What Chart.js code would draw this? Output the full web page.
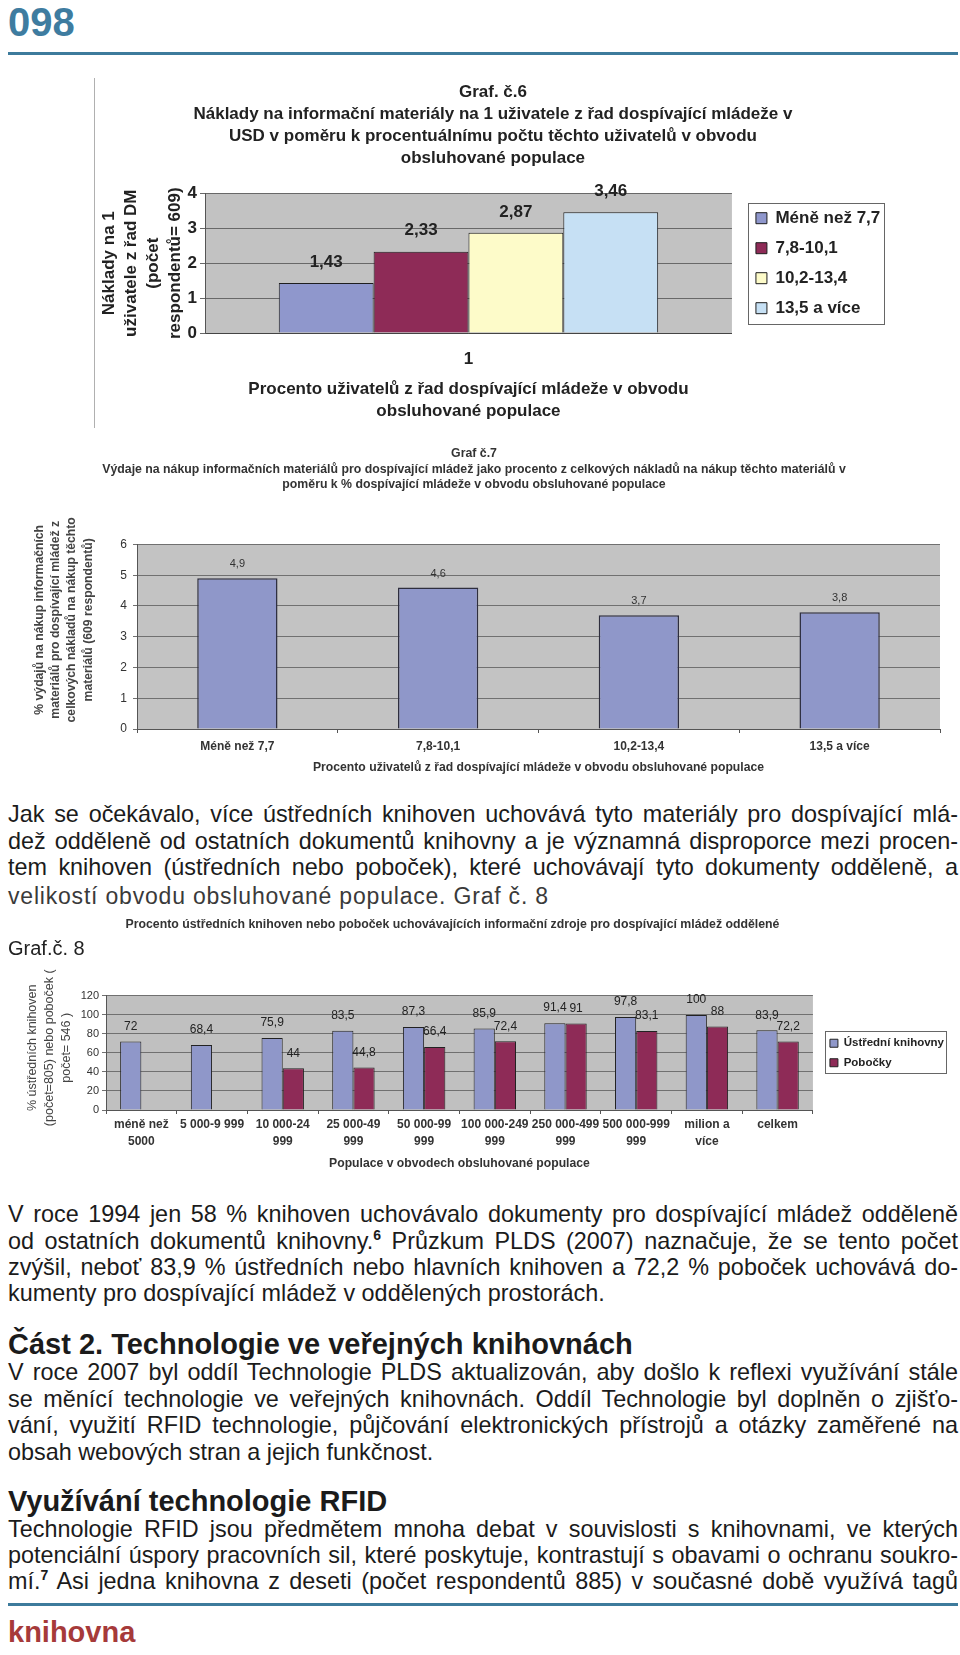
<!DOCTYPE html>
<html><head><meta charset="utf-8">
<script src="https://cdn.jsdelivr.net/npm/chart.js@4.4.1/dist/chart.umd.min.js"></script>
<style>
html,body{margin:0;padding:0;background:#fff;}
body{position:relative;width:960px;height:1655px;overflow:hidden;font-family:"Liberation Sans",Arial,sans-serif;}
.abs{position:absolute;}
canvas{position:absolute;}
.t{position:absolute;left:8px;width:950px;white-space:nowrap;font-family:"Liberation Sans",Arial,sans-serif;font-size:23.4px;line-height:26px;height:26px;color:#1b1b1b;}
.h{position:absolute;left:8px;white-space:nowrap;font-family:"Liberation Sans",Arial,sans-serif;font-weight:bold;font-size:29px;line-height:34px;color:#1b1b1b;}
sup{font-size:14px;font-weight:bold;line-height:0;vertical-align:9px;}
</style></head>
<body>
<div class="abs" style="left:8px;top:0;font-weight:bold;font-size:40px;line-height:44px;color:#3e7ca0;">098</div>
<div class="abs" style="left:8px;top:52px;width:950px;height:3px;background:#3d7b9c"></div>
<div class="abs" style="left:94px;top:78px;width:1px;height:350px;background:#b0b0b0"></div>

<canvas id="c6" width="794" height="355" style="left:96px;top:75px"></canvas>
<canvas id="c7" width="950" height="340" style="left:0px;top:440px"></canvas>

<div class="t j" style="top:801px"><span>Jak se očekávalo, více ústředních knihoven uchovává tyto materiály pro dospívající mlá-</span></div>
<div class="t j" style="top:828px"><span>dež odděleně od ostatních dokumentů knihovny a je významná disproporce mezi procen-</span></div>
<div class="t j" style="top:854px"><span>tem knihoven (ústředních nebo poboček), které uchovávají tyto dokumenty odděleně, a</span></div>
<div class="t" style="top:883px;font-size:23px;letter-spacing:0.8px;color:#3a3a3a;"><span>velikostí obvodu obsluhované populace. Graf č. 8</span></div>

<canvas id="c8" width="955" height="275" style="left:0px;top:905px"></canvas>
<div class="abs" style="left:8px;top:935px;font-size:20px;line-height:26px;color:#222;">Graf.č. 8</div>

<div class="t j" style="top:1201px"><span>V roce 1994 jen 58 % knihoven uchovávalo dokumenty pro dospívající mládež odděleně</span></div>
<div class="t j" style="top:1228px"><span>od ostatních dokumentů knihovny.<sup>6</sup> Průzkum PLDS (2007) naznačuje, že se tento počet</span></div>
<div class="t j" style="top:1254px"><span>zvýšil, neboť 83,9 % ústředních nebo hlavních knihoven a 72,2 % poboček uchovává do-</span></div>
<div class="t" style="top:1280px"><span>kumenty pro dospívající mládež v oddělených prostorách.</span></div>

<div class="h" style="top:1327px">Část 2. Technologie ve veřejných knihovnách</div>
<div class="t j" style="top:1359px"><span>V roce 2007 byl oddíl Technologie PLDS aktualizován, aby došlo k reflexi využívání stále</span></div>
<div class="t j" style="top:1386px"><span>se měnící technologie ve veřejných knihovnách. Oddíl Technologie byl doplněn o zjišťo-</span></div>
<div class="t j" style="top:1412px"><span>vání, využití RFID technologie, půjčování elektronických přístrojů a otázky zaměřené na</span></div>
<div class="t" style="top:1439px"><span>obsah webových stran a jejich funkčnost.</span></div>

<div class="h" style="top:1484px">Využívání technologie RFID</div>
<div class="t j" style="top:1516px"><span>Technologie RFID jsou předmětem mnoha debat v souvislosti s knihovnami, ve kterých</span></div>
<div class="t j" style="top:1542px"><span>potenciální úspory pracovních sil, které poskytuje, kontrastují s obavami o ochranu soukro-</span></div>
<div class="t j" style="top:1568px"><span>mí.<sup>7</sup> Asi jedna knihovna z deseti (počet respondentů 885) v současné době využívá tagů</span></div>

<div class="abs" style="left:8px;top:1603px;width:950px;height:3px;background:#3d7b9c"></div>
<div class="abs" style="left:8px;top:1615px;font-weight:bold;font-size:29px;line-height:34px;color:#a63a3a;">knihovna</div>

<script>
// ---------- data ----------
const c6Categories = ['1'];
const c6Series = ['Méně než 7,7', '7,8-10,1', '10,2-13,4', '13,5 a více'];
const c6Values = [1.43, 2.33, 2.87, 3.46];
const c6Colors = ['#8f97cc', '#8e2b57', '#fdfbc9', '#c6e0f4'];

const c7Categories = ['Méně než 7,7', '7,8-10,1', '10,2-13,4', '13,5 a více'];
const c7Values = [4.9, 4.6, 3.7, 3.8];

const c8Categories = [['méně než','5000'], ['5 000-9 999'], ['10 000-24','999'], ['25 000-49','999'], ['50 000-99','999'], ['100 000-249','999'], ['250 000-499','999'], ['500 000-999','999'], ['milion a','více'], ['celkem']];
const c8SeriesNames = ['Ústřední knihovny', 'Pobočky'];
const c8Central = [72, 68.4, 75.9, 83.5, 87.3, 85.9, 91.4, 97.8, 100, 83.9];
const c8Branches = [null, null, 44, 44.8, 66.4, 72.4, 91, 83.1, 88, 72.2];

// ---------- justify text lines ----------
document.querySelectorAll('.j').forEach(el => {
  const sp = el.querySelector('span');
  const w = sp.getBoundingClientRect().width;
  const n = (sp.textContent.match(/ /g) || []).length;
  if (n > 0) el.style.wordSpacing = ((950 - w) / n) + 'px';
});

// ---------- plugins ----------
const plotBg = {
  id: 'plotBg',
  beforeDraw(chart, args, o) {
    const {ctx, chartArea: a} = chart;
    ctx.save(); ctx.fillStyle = o.color; ctx.fillRect(a.left, a.top, a.width, a.height); ctx.restore();
  }
};
const valueLabels = {
  id: 'valueLabels',
  afterDatasetsDraw(chart, args, o) {
    const {ctx} = chart;
    ctx.save();
    ctx.font = o.font; ctx.fillStyle = o.color; ctx.textAlign = 'center'; ctx.textBaseline = 'middle';
    chart.data.datasets.forEach((ds, i) => {
      const meta = chart.getDatasetMeta(i);
      meta.data.forEach((el, j) => {
        const v = ds.data[j];
        if (v === null || v === undefined) return;
        ctx.fillText(String(v).replace('.', ','), el.x, el.y - o.offset);
      });
    });
    ctx.restore();
  }
};
const legendBox = {
  id: 'legendBox',
  afterDraw(chart, args, o) {
    const lg = chart.legend;
    if (!lg || !lg.legendHitBoxes || !lg.legendHitBoxes.length) return;
    let l = Infinity, t = Infinity, r = -Infinity, b = -Infinity;
    lg.legendHitBoxes.forEach(h => { l = Math.min(l, h.left); t = Math.min(t, h.top); r = Math.max(r, h.left + h.width); b = Math.max(b, h.top + h.height); });
    const ctx = chart.ctx;
    ctx.save(); ctx.strokeStyle = o.color; ctx.lineWidth = 1;
    ctx.strokeRect(Math.round(l - o.pad[0]) + 0.5, Math.round(t - o.pad[1]) + 0.5, Math.round(r - l + o.pad[0] + o.pad[2]), Math.round(b - t + o.pad[1] + o.pad[3]));
    ctx.restore();
  }
};
// shifts the legend / title boxes sideways after the library's layout
const shiftBoxes = {
  id: 'shiftBoxes',
  afterLayout(chart, args, o) {
    if (o.legend && chart.legend) { chart.legend.left += o.legend; chart.legend.right += o.legend; }
    if (o.title && chart.titleBlock) { chart.titleBlock.left += o.title; chart.titleBlock.right += o.title; }
  }
};

Chart.defaults.font.family = '"Liberation Sans", Arial, sans-serif';
Chart.defaults.animation = false;

const NB = '\u00A0';

// ---------- Graf 6 ----------
new Chart(document.getElementById('c6'), {
  type: 'bar',
  data: {
    labels: c6Categories,
    datasets: c6Series.map((name, i) => ({
      label: name, data: [c6Values[i]], backgroundColor: c6Colors[i],
      borderColor: '#1e1e1e', borderWidth: 1, categoryPercentage: 0.72, barPercentage: 1
    }))
  },
  options: {
    responsive: false, animation: false,
    layout: {padding: {left: 0, right: 10.7, top: 0, bottom: 0}},
    scales: {
      x: {
        grid: {display: false, drawTicks: false}, border: {display: true, color: '#444'},
        ticks: {color: '#222', font: {size: 17, weight: 'bold'}, padding: 16},
        title: {display: true, text: ['Procento uživatelů z řad dospívající mládeže v obvodu', 'obsluhované populace'], color: '#222', font: {size: 17, weight: 'bold', lineHeight: 1.3}, padding: {top: 0, bottom: 8}},
        afterFit(s) { s.height = 97; }
      },
      y: {
        min: 0, max: 4,
        ticks: {stepSize: 1, color: '#222', font: {size: 17, weight: 'bold'}, padding: 3},
        grid: {color: '#686868', tickLength: 5},
        border: {color: '#555'},
        title: {display: true, text: ['Náklady na 1', 'uživatele z řad DM', '(počet', 'respondentů= 609)'], color: '#222', font: {size: 17, weight: 'bold', lineHeight: 1.3}, padding: {top: 2, bottom: 0}},
        afterFit(s) { s.width = 109; }
      }
    },
    plugins: {
      title: {display: true, text: ['Graf. č.6', 'Náklady na informační materiály na 1 uživatele z řad dospívající mládeže v', 'USD v poměru k procentuálnímu počtu těchto uživatelů v obvodu', 'obsluhované populace'], color: '#222', font: {size: 17, weight: 'bold', lineHeight: 1.3}, padding: {top: 6, bottom: 24}},
      legend: {position: 'right', fullSize: false, labels: {boxWidth: 11, boxHeight: 11, padding: 13, color: '#222', font: {size: 17, weight: 'bold'}}},
      tooltip: {enabled: false},
      plotBg: {color: '#c2c2c2'},
      valueLabels: {font: 'bold 17px "Liberation Sans", Arial, sans-serif', color: '#222', offset: 21},
      legendBox: {color: '#666', pad: [8, 7, 4, 7]},
      shiftBoxes: {legend: 11, title: 5.3}
    }
  },
  plugins: [plotBg, valueLabels, legendBox, shiftBoxes]
});

// ---------- Graf 7 ----------
new Chart(document.getElementById('c7'), {
  type: 'bar',
  data: {
    labels: c7Categories,
    datasets: [{label: 'Výdaje', data: c7Values, backgroundColor: '#8f97c9', borderColor: '#2e2e3e', borderWidth: 1.5, categoryPercentage: 0.8, barPercentage: 0.5}]
  },
  options: {
    responsive: false, animation: false,
    layout: {padding: {left: 0, right: 2, top: 0, bottom: 0}},
    scales: {
      x: {
        grid: {display: true, drawOnChartArea: false, drawTicks: true, tickLength: 4, color: '#555', offset: true},
        border: {color: '#555'},
        ticks: {color: '#333', font: {size: 12, weight: 'bold'}, padding: 6, maxRotation: 0, autoSkip: false},
        title: {display: true, text: 'Procento uživatelů z řad dospívající mládeže v obvodu obsluhované populace', color: '#333', font: {size: 12.2, weight: 'bold', lineHeight: 1.34}, padding: {top: 0, bottom: 4}},
        afterFit(s) { s.height = 51; }
      },
      y: {
        min: 0, max: 6,
        ticks: {stepSize: 1, color: '#333', font: {size: 12}, padding: 6},
        grid: {color: '#707070', tickLength: 4},
        border: {color: '#555'},
        title: {display: true, text: ['% výdajů na nákup informačních', 'materiálů pro dospívající mládež z', 'celkových nákladů na nákup těchto', 'materiálů (609 respondentů)'].map(s => NB.repeat(10) + s), color: '#444', font: {size: 12.2, weight: 'bold', lineHeight: 1.34}, padding: {top: 31, bottom: 0}},
        afterFit(s) { s.width = 137; }
      },
      gap: {position: 'right', display: true, grid: {display: false}, ticks: {display: false}, border: {display: false}, afterFit(s) { s.width = 8; }}
    },
    plugins: {
      title: {display: true, text: ['Graf č.7', 'Výdaje na nákup informačních materiálů pro dospívající mládež jako procento z celkových nákladů na nákup těchto materiálů v', 'poměru k % dospívající mládeže v obvodu obsluhované populace'], color: '#333', font: {size: 12.3, weight: 'bold', lineHeight: 1.26}, padding: {top: 6, bottom: 52}},
      legend: {display: false},
      tooltip: {enabled: false},
      plotBg: {color: '#c3c3c3'},
      valueLabels: {font: '11px "Liberation Sans", Arial, sans-serif', color: '#333', offset: 14}
    }
  },
  plugins: [plotBg, valueLabels]
});

// ---------- Graf 8 ----------
new Chart(document.getElementById('c8'), {
  type: 'bar',
  data: {
    labels: c8Categories,
    datasets: [
      {label: c8SeriesNames[0], data: c8Central, backgroundColor: '#8f97c9', borderColor: '#222', borderWidth: 1, categoryPercentage: 0.6, barPercentage: 1},
      {label: c8SeriesNames[1], data: c8Branches, backgroundColor: '#8e2b57', borderColor: '#222', borderWidth: 1, categoryPercentage: 0.6, barPercentage: 1}
    ]
  },
  options: {
    responsive: false, animation: false,
    layout: {padding: {left: 0, right: 1, top: 0, bottom: 0}},
    scales: {
      x: {
        grid: {display: true, drawOnChartArea: false, drawTicks: true, tickLength: 4, color: '#555', offset: true},
        border: {color: '#555'},
        ticks: {color: '#333', font: {size: 12, weight: 'bold', lineHeight: 1.35}, padding: 3, maxRotation: 0, minRotation: 0, autoSkip: false},
        title: {display: true, text: 'Populace v obvodech obsluhované populace', color: '#333', font: {size: 12.2, weight: 'bold', lineHeight: 1.34}, padding: {top: 0, bottom: 8}},
        afterFit(s) { s.height = 70; }
      },
      y: {
        min: 0, max: 120,
        ticks: {stepSize: 20, color: '#333', font: {size: 11}, padding: 3},
        grid: {color: '#707070', tickLength: 4},
        border: {color: '#555'},
        title: {display: true, text: ['% ústředních knihoven', '(počet=805) nebo poboček (', 'počet= 546 )'].map(s => NB.repeat(3) + s), color: '#444', font: {size: 12.5, lineHeight: 1.36}, padding: {top: 24.5, bottom: 0}},
        afterFit(s) { s.width = 106; }
      },
      gap: {position: 'right', display: true, grid: {display: false}, ticks: {display: false}, border: {display: false}, afterFit(s) { s.width = 9; }}
    },
    plugins: {
      title: {display: true, fullSize: false, text: 'Procento ústředních knihoven nebo poboček uchovávajících informační zdroje pro dospívající mládež oddělené', color: '#333', font: {size: 12.3, weight: 'bold', lineHeight: 1.3}, padding: {top: 12, bottom: 63}},
      legend: {position: 'right', fullSize: false, labels: {boxWidth: 8, boxHeight: 8, padding: 8, color: '#222', font: {size: 11.5, weight: 'bold'}}},
      tooltip: {enabled: false},
      plotBg: {color: '#c0c0c0'},
      valueLabels: {font: '12px "Liberation Sans", Arial, sans-serif', color: '#222', offset: 15},
      legendBox: {color: '#666', pad: [5, 6, 2, 5]},
      shiftBoxes: {title: -7}
    }
  },
  plugins: [plotBg, valueLabels, legendBox, shiftBoxes]
});
</script>
</body></html>
